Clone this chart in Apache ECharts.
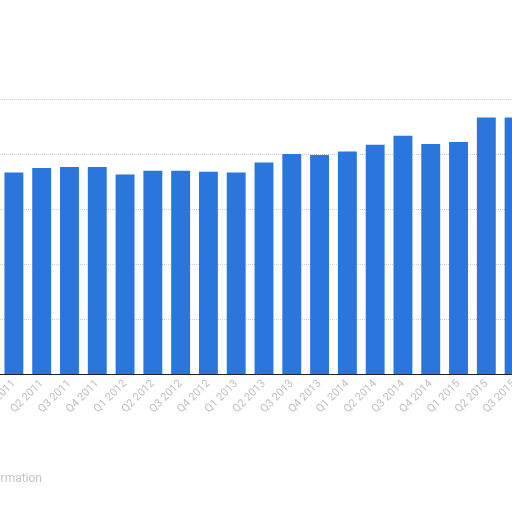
<!DOCTYPE html>
<html>
<head>
<meta charset="utf-8">
<script src="https://cdn.jsdelivr.net/npm/echarts@6/dist/echarts.min.js"></script>
<style>
html,body{margin:0;padding:0;background:#fff;}
#c{width:512px;height:512px;}
</style>
</head>
<body>
<div id="c"></div>
<script>
var categories = ["Q1 2011","Q2 2011","Q3 2011","Q4 2011","Q1 2012","Q2 2012","Q3 2012","Q4 2012","Q1 2013","Q2 2013","Q3 2013","Q4 2013","Q1 2014","Q2 2014","Q3 2014","Q4 2014","Q1 2015","Q2 2015","Q3 2015"];
var values = [3665,3745,3764,3764,3629,3696,3696,3678,3665,3847,4000,3982,4047,4169,4333,4182,4218,4665,4665];
var yTicks = [0,1000,2000,3000,4000,5000];

var chart = echarts.init(document.getElementById('c'));
chart.setOption({
  animation:false,
  backgroundColor:'#ffffff',
  grid:{left:0,right:-16,top:99,bottom:138,containLabel:false,outerBoundsMode:'none'},
  xAxis:{
    type:'category',
    data:categories,
    axisLine:{lineStyle:{color:'#222',width:1}},
    axisTick:{show:false},
    axisLabel:{rotate:45,color:'#c0c0c0',fontSize:11,fontFamily:'Roboto',margin:8,interval:0}
  },
  yAxis:{
    type:'value',
    min:yTicks[0],
    max:yTicks[yTicks.length-1],
    interval:yTicks[1]-yTicks[0],
    axisLabel:{show:false},
    axisLine:{show:false},
    axisTick:{show:false},
    splitLine:{lineStyle:{color:'#cfcfcf',type:'dotted',width:1}}
  },
  graphic:[{
    type:'text',right:470,top:473,
    style:{text:'Additional Information',fill:'#c4c4c4',font:'12px Roboto',textAlign:'right'}
  }],
  series:[{
    type:'bar',
    data:values,
    barCategoryGap:'32%',
    itemStyle:{color:'#2a76dc'}
  }]
});
</script>
</body>
</html>
